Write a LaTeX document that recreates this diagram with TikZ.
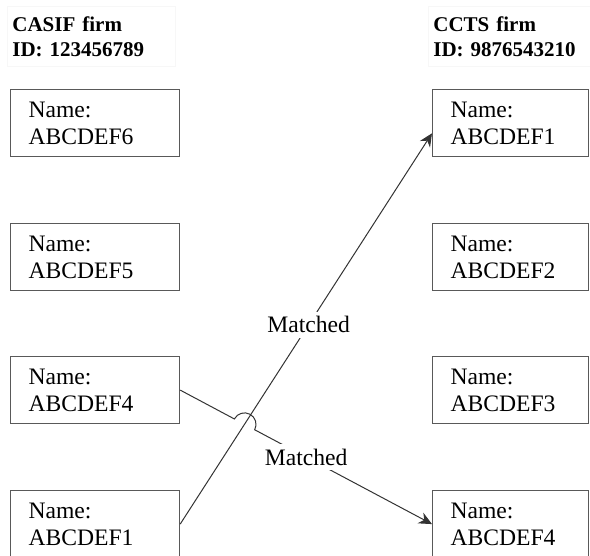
\documentclass[tikz,border=0pt]{standalone}
\usepackage{fontspec}
\setmainfont{Liberation Serif}
\usetikzlibrary{calc}
\usetikzlibrary{arrows.meta}

\tikzset{
  namebox/.style={draw=black!65, line width=0.6pt, anchor=north west, minimum height=33.5pt, inner xsep=9pt, align=left, font=\fontsize{11.8}{13.5}\selectfont},
  leftbox/.style={namebox, minimum width=84.5pt, text width=66.5pt},
  rightbox/.style={namebox, minimum width=78pt, text width=60pt},
  firmhead/.style={draw=black!3, anchor=north west, minimum height=30pt, inner xsep=2.5pt, align=left, font=\fontsize{10.5}{12.5}\selectfont\bfseries},
  link/.style={draw=black!80, line width=0.5pt, -{Stealth[length=6.5pt,width=6pt]}},
  matchlabel/.style={fill=white, inner sep=2.5pt, font=\fontsize{11.8}{13.5}\selectfont}
}

\begin{document}
\begin{tikzpicture}[x=0.5pt, y=-0.5pt]
\useasboundingbox (0,0) rectangle (590,556);
% firm headers
\node[firmhead, text width=79pt] (casifhead) at (7,6) {CASIF firm\\ID: 123456789};
\node[firmhead, text width=80pt] (cctshead) at (428,6) {CCTS firm\\ID: 9876543210};
% CASIF names
\node[leftbox] (casif6) at (10,89) {Name:\\ABCDEF6};
\node[leftbox] (casif5) at (10,223) {Name:\\ABCDEF5};
\node[leftbox] (casif4) at (10,356) {Name:\\ABCDEF4};
\node[leftbox] (casif1) at (10,490) {Name:\\ABCDEF1};
% CCTS names
\node[rightbox] (ccts1) at (432,89) {Name:\\ABCDEF1};
\node[rightbox] (ccts2) at (432,223) {Name:\\ABCDEF2};
\node[rightbox] (ccts3) at (432,356) {Name:\\ABCDEF3};
\node[rightbox] (ccts4) at (432,490) {Name:\\ABCDEF4};
% matches
\coordinate (ccts1in) at ($(ccts1.west)!0.3!(ccts1.south west)$);
\coordinate (cross) at (intersection of casif1.east--ccts1in and casif4.east--ccts4.west);
\draw[link] (casif1.east) -- (ccts1in);
\node[matchlabel] (match1) at ($(casif1.east)!0.51!(ccts1in)$) {Matched};
\draw[link] let \p1=($(ccts4.west)-(casif4.east)$), \n1={atan2(\y1,\x1)} in
  (casif4.east) -- ($(cross)!5.75pt!(casif4.east)$)
  arc[start angle=\n1+180, end angle=\n1, radius=5.75pt] -- (ccts4.west);
\node[matchlabel] (match2) at ($(casif4.east)!0.5!(ccts4.west)$) {Matched};
\end{tikzpicture}
\end{document}
